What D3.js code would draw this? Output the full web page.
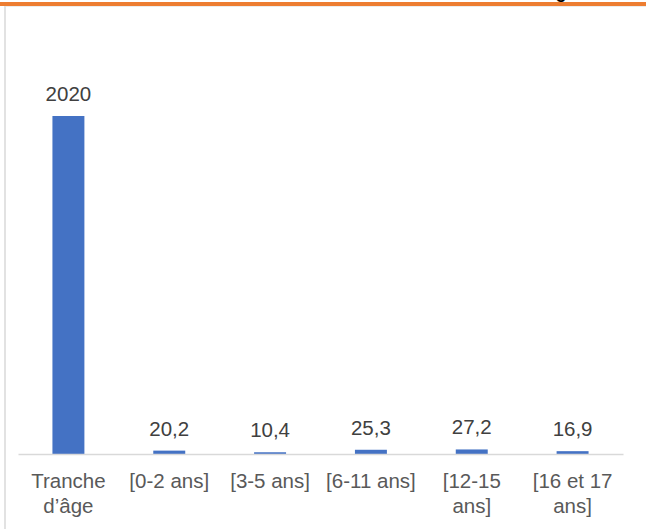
<!DOCTYPE html>
<html>
<head>
<meta charset="utf-8">
<script src="https://cdn.jsdelivr.net/npm/d3@7"></script>
<style>
  html, body { margin: 0; padding: 0; background: #fff; }
  svg { display: block; font-family: "Liberation Sans", Arial, sans-serif; }
</style>
</head>
<body>
<div id="chart"></div>
<script>
// categories (tranche d'âge) and their values
var categories = ["Tranche d’âge", "[0-2 ans]", "[3-5 ans]", "[6-11 ans]", "[12-15 ans]", "[16 et 17 ans]"];
var tickLines = [["Tranche", "d’âge"], ["[0-2 ans]"], ["[3-5 ans]"], ["[6-11 ans]"], ["[12-15", "ans]"], ["[16 et 17", "ans]"]];
var values = [2020, 20.2, 10.4, 25.3, 27.2, 16.9];
var valueLabels = ["2020", "20,2", "10,4", "25,3", "27,2", "16,9"];

var width = 646, height = 529;

var svg = d3.select("#chart")
  .append("svg")
  .attr("width", width)
  .attr("height", height);

// bit of the title above, cut off by the frame
svg.append("text")
  .attr("x", 561)
  .attr("y", -2)
  .attr("text-anchor", "middle")
  .attr("font-size", 18)
  .attr("font-weight", "bold")
  .attr("fill", "#000")
  .text("g");

// orange rule on top + light frame
svg.append("rect").attr("x", 0).attr("y", 2).attr("width", width).attr("height", 4).attr("fill", "#ed7d31");
svg.append("rect").attr("x", 4).attr("y", 6).attr("width", width - 4).attr("height", 1).attr("fill", "#ececec");
svg.append("rect").attr("x", 4).attr("y", 6).attr("width", 2).attr("height", height - 6).attr("fill", "#e2e2e2");

var x = d3.scaleBand()
  .domain(categories)
  .range([18, 623])
  .paddingInner(0.683)
  .paddingOuter(0.3415);

var y = d3.scaleLinear()
  .domain([0, 2020])
  .range([454, 116]);

svg.selectAll(".bar")
  .data(values)
  .enter()
  .append("rect")
  .attr("class", "bar")
  .attr("x", function(d, i) { return x(categories[i]); })
  .attr("y", function(d) { return y(d); })
  .attr("width", x.bandwidth())
  .attr("height", function(d) { return y(0) - y(d); })
  .attr("fill", "#4472c4");

// axis
var axis = svg.append("g")
  .attr("transform", "translate(0," + y(0) + ")")
  .call(d3.axisBottom(x).tickSize(0).tickFormat(""));
axis.select(".domain").attr("stroke", "#d9d9d9").attr("stroke-width", 1.5);

axis.selectAll(".tick").each(function(d, i) {
  var t = d3.select(this).append("text")
    .attr("fill", "#595959")
    .attr("font-size", 20.5)
    .attr("text-anchor", "middle");
  tickLines[i].forEach(function(line, k) {
    t.append("tspan")
      .attr("x", 0)
      .attr("y", 34 + k * 25)
      .text(line);
  });
});

// value labels
svg.selectAll(".val")
  .data(values)
  .enter()
  .append("text")
  .attr("class", "val")
  .attr("x", function(d, i) { return x(categories[i]) + x.bandwidth() / 2; })
  .attr("y", function(d) { return y(d) - 15; })
  .attr("text-anchor", "middle")
  .attr("font-size", 20.5)
  .attr("fill", "#404040")
  .text(function(d, i) { return valueLabels[i]; });
</script>
</body>
</html>
